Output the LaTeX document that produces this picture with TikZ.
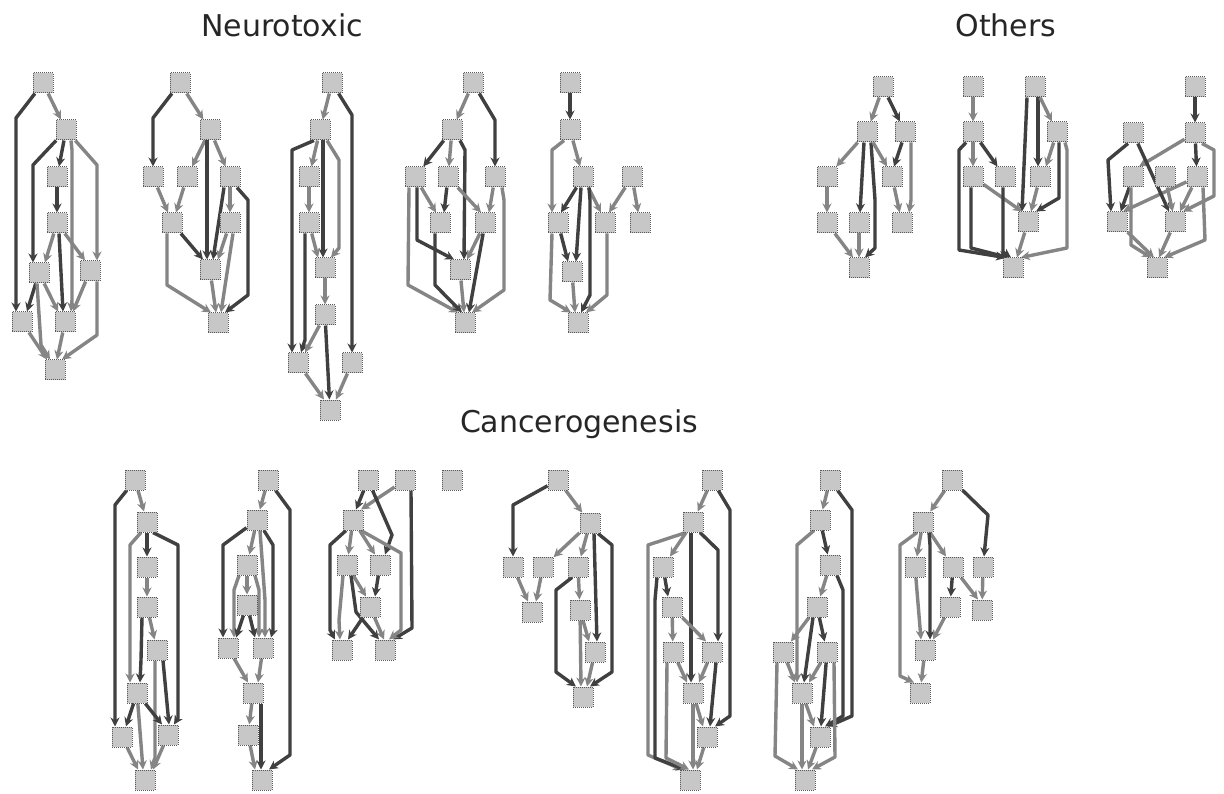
\documentclass[tikz,border=0pt]{standalone}
\usepackage{fontspec}
\setmainfont{DejaVu Sans}
\usetikzlibrary{arrows.meta,backgrounds}
\newcommand\mkbox[3]{\node[nb] (#1) at (#2,#3) {};}
\begin{document}
\begin{tikzpicture}[x=1pt,y=-1pt,
  nb/.style={draw=black!65, densely dotted, line width=1pt, fill=black!22, minimum width=20pt, minimum height=20pt, inner sep=0pt},
  ed/.style={draw=black!75, line width=3.4pt, line join=round, -{Stealth[length=9pt,width=9pt]}},
  eg/.style={draw=black!48, line width=3.4pt, line join=round, -{Stealth[length=9pt,width=9pt]}},
  ttl/.style={font=\fontsize{30}{34}\selectfont, text=black!85, anchor=base, inner sep=0pt}]
\useasboundingbox (0,0) rectangle (1224,794);

\node[ttl] (tN) at (282,37) {Neurotoxic};
\node[ttl] (tO) at (1006,37) {Others};
\node[ttl] (tC) at (579,432) {Cancerogenesis};

% ---------- N1
\mkbox{n1a}{43}{83}\mkbox{n1b}{66}{130}\mkbox{n1c}{57}{177}\mkbox{n1d}{57}{223}
\mkbox{n1e}{39}{273}\mkbox{n1f}{90}{271}\mkbox{n1g}{22}{322}\mkbox{n1h}{65}{322}\mkbox{n1i}{55}{370}
% ---------- N2
\mkbox{n2a}{180}{83}\mkbox{n2b}{210}{130}\mkbox{n2c}{153}{177}\mkbox{n2d}{187}{177}
\mkbox{n2e}{230}{177}\mkbox{n2f}{230}{223}\mkbox{n2g}{172}{223}\mkbox{n2h}{210}{270}\mkbox{n2i}{218}{323}
% ---------- N3
\mkbox{n3a}{332}{83}\mkbox{n3b}{320}{130}\mkbox{n3c}{309}{177}\mkbox{n3d}{309}{223}
\mkbox{n3e}{325}{268}\mkbox{n3f}{325}{315}\mkbox{n3g}{298}{363}\mkbox{n3h}{352}{363}\mkbox{n3i}{330}{410}
% ---------- N4
\mkbox{n4a}{473}{83}\mkbox{n4b}{452}{130}\mkbox{n4c}{415}{177}\mkbox{n4d}{448}{177}
\mkbox{n4e}{495}{177}\mkbox{n4f}{440}{223}\mkbox{n4g}{485}{223}\mkbox{n4h}{460}{270}\mkbox{n4i}{465}{323}
% ---------- N5
\mkbox{n5a}{570}{83}\mkbox{n5b}{570}{130}\mkbox{n5c}{583}{177}\mkbox{n5d}{632}{177}
\mkbox{n5e}{558}{223}\mkbox{n5f}{605}{223}\mkbox{n5g}{640}{223}\mkbox{n5h}{572}{272}\mkbox{n5i}{578}{323}
% ---------- O1
\mkbox{o1a}{883}{87}\mkbox{o1b}{867}{132}\mkbox{o1c}{905}{132}\mkbox{o1d}{827}{177}
\mkbox{o1e}{892}{177}\mkbox{o1f}{827}{223}\mkbox{o1g}{859}{223}\mkbox{o1h}{902}{223}\mkbox{o1i}{859}{268}
% ---------- O2
\mkbox{o2a}{973}{87}\mkbox{o2b}{1035}{87}\mkbox{o2c}{973}{132}\mkbox{o2d}{1057}{132}
\mkbox{o2e}{973}{177}\mkbox{o2f}{1005}{177}\mkbox{o2g}{1040}{177}\mkbox{o2h}{1028}{222}\mkbox{o2i}{1013}{268}
% ---------- O3
\mkbox{o3a}{1195}{87}\mkbox{o3b}{1133}{133}\mkbox{o3c}{1195}{133}\mkbox{o3d}{1133}{177}
\mkbox{o3e}{1165}{177}\mkbox{o3f}{1197}{177}\mkbox{o3g}{1117}{222}\mkbox{o3h}{1175}{222}\mkbox{o3i}{1157}{268}
% ---------- C1
\mkbox{c1a}{135}{480}\mkbox{c1b}{147}{522}\mkbox{c1c}{147}{567}\mkbox{c1d}{147}{607}
\mkbox{c1e}{157}{650}\mkbox{c1f}{137}{693}\mkbox{c1g}{122}{737}\mkbox{c1h}{168}{735}\mkbox{c1i}{145}{780}
% ---------- C2
\mkbox{c2a}{268}{480}\mkbox{c2b}{257}{520}\mkbox{c2c}{247}{565}\mkbox{c2d}{247}{605}
\mkbox{c2e}{228}{648}\mkbox{c2f}{263}{648}\mkbox{c2g}{253}{693}\mkbox{c2h}{248}{735}\mkbox{c2i}{262}{780}
% ---------- C3
\mkbox{c3a}{368}{480}\mkbox{c3b}{405}{480}\mkbox{c3c}{452}{480}\mkbox{c3d}{353}{520}
\mkbox{c3e}{347}{565}\mkbox{c3f}{380}{565}\mkbox{c3g}{370}{607}\mkbox{c3h}{342}{650}\mkbox{c3i}{385}{650}
% ---------- C4
\mkbox{c4a}{558}{480}\mkbox{c4b}{590}{523}\mkbox{c4c}{513}{567}\mkbox{c4d}{543}{567}
\mkbox{c4e}{578}{567}\mkbox{c4f}{532}{612}\mkbox{c4g}{580}{610}\mkbox{c4h}{595}{652}\mkbox{c4i}{583}{697}
% ---------- C5
\mkbox{c5a}{712}{480}\mkbox{c5b}{693}{522}\mkbox{c5c}{663}{567}\mkbox{c5d}{672}{607}
\mkbox{c5e}{673}{652}\mkbox{c5f}{712}{652}\mkbox{c5g}{693}{693}\mkbox{c5h}{707}{737}\mkbox{c5i}{690}{780}
% ---------- C6
\mkbox{c6a}{830}{480}\mkbox{c6b}{820}{520}\mkbox{c6c}{830}{565}\mkbox{c6d}{817}{607}
\mkbox{c6e}{783}{652}\mkbox{c6f}{827}{652}\mkbox{c6g}{802}{693}\mkbox{c6h}{820}{737}\mkbox{c6i}{805}{780}
% ---------- C7
\mkbox{c7a}{952}{480}\mkbox{c7b}{923}{522}\mkbox{c7c}{915}{567}\mkbox{c7d}{953}{567}
\mkbox{c7e}{983}{567}\mkbox{c7f}{950}{607}\mkbox{c7g}{982}{610}\mkbox{c7h}{925}{650}\mkbox{c7i}{920}{693}

\begin{scope}[on background layer]
\fill[white] (0,0) rectangle (1224,794);
% N1
\draw[ed] (n1a) -- (16,118) -- ([xshift=-6pt]n1g.north);
\draw[eg] (n1a) -- (n1b);
\draw[ed] (n1b) -- (n1c);
\draw[ed] (n1b) -- (33,165) -- ([xshift=-6pt]n1e.north);
\draw[eg] (n1b) -- (97,165) -- ([xshift=7pt]n1f.north);
\draw[eg] ([xshift=5pt]n1b.south) -- (72,150) -- (72,300) -- ([xshift=6pt]n1h.north);
\draw[ed] (n1c) -- (n1d);
\draw[eg] (n1d) -- ([xshift=6pt]n1e.north);
\draw[eg] (n1d) -- ([xshift=-5pt]n1f.north);
\draw[ed] ([xshift=2pt]n1d.south) -- ([xshift=-2pt]n1h.north);
\draw[ed] (n1e) -- ([xshift=5pt]n1g.north);
\draw[eg] (n1e) -- ([xshift=-7pt]n1h.north);
\draw[eg] ([xshift=-2pt]n1e.south) -- (41,345) -- ([xshift=-5pt]n1i.north);
\draw[eg] (n1f) -- ([xshift=8pt]n1h.north);
\draw[eg] ([xshift=7pt]n1f.south) -- (97,335) -- ([xshift=7pt]n1i.north);
\draw[eg] (n1g) -- ([xshift=-8pt]n1i.north);
\draw[eg] (n1h) -- ([xshift=2pt]n1i.north);
% N2
\draw[ed] (n2a) -- (153,118) -- (n2c);
\draw[eg] (n2a) -- (n2b);
\draw[eg] (n2b) -- (n2d);
\draw[eg] (n2b) -- (n2e);
\draw[ed] ([xshift=-3pt]n2b.south) -- ([xshift=-3pt]n2h.north);
\draw[eg] (n2c) -- ([xshift=-4pt]n2g.north);
\draw[eg] (n2d) -- ([xshift=4pt]n2g.north);
\draw[eg] (n2e) -- (n2f);
\draw[ed] ([xshift=-6pt]n2e.south) -- ([xshift=3pt]n2h.north);
\draw[ed] ([xshift=7pt]n2e.south) -- (248,200) -- (248,295) -- ([xshift=7pt]n2i.north);
\draw[eg] (n2f) -- ([xshift=8pt]n2h.north);
\draw[eg] ([xshift=3pt]n2f.south) -- ([xshift=3pt]n2i.north);
\draw[ed] (n2g) -- ([xshift=-7pt]n2h.north);
\draw[eg] ([xshift=-5pt]n2g.south) -- (167,285) -- ([xshift=-7pt]n2i.north);
\draw[eg] (n2h) -- ([xshift=-2pt]n2i.north);
% N3
\draw[eg] (n3a) -- (n3b);
\draw[ed] (n3a) -- (352,115) -- (n3h);
\draw[eg] (n3b) -- (n3c);
\draw[ed] ([xshift=-6pt]n3b.south) -- (292,150) -- ([xshift=-6pt]n3g.north);
\draw[ed] ([xshift=3pt]n3b.south) -- ([xshift=-2pt]n3e.north);
\draw[eg] ([xshift=7pt]n3b.south) -- (339,160) -- (339,248) -- ([xshift=6pt]n3e.north);
\draw[eg] (n3c) -- (n3d);
\draw[eg] (n3d) -- ([xshift=-7pt]n3e.north);
\draw[ed] ([xshift=-4pt]n3d.south) -- (305,340) -- ([xshift=3pt]n3g.north);
\draw[eg] (n3e) -- (n3f);
\draw[eg] (n3f) -- ([xshift=7pt]n3g.north);
\draw[ed] (n3f) -- (n3i);
\draw[eg] (n3g) -- ([xshift=-6pt]n3i.north);
\draw[eg] (n3h) -- ([xshift=6pt]n3i.north);
% N4
\draw[eg] (n4a) -- (n4b);
\draw[ed] (n4a) -- (495,120) -- (n4e);
\draw[ed] (n4b) -- (n4c);
\draw[eg] (n4b) -- (n4d);
\draw[ed] ([xshift=8pt]n4b.south) -- (465,150) -- ([xshift=4pt]n4h.north);
\draw[eg] (n4c) -- ([xshift=-4pt]n4f.north);
\draw[ed] ([xshift=2pt]n4c.south) -- (417,240) -- ([xshift=-6pt]n4h.north);
\draw[eg] ([xshift=-6pt]n4c.south) -- (408,285) -- ([xshift=-7pt]n4i.north);
\draw[ed] (n4d) -- ([xshift=4pt]n4f.north);
\draw[eg] (n4d) -- ([xshift=-4pt]n4g.north);
\draw[eg] (n4e) -- ([xshift=4pt]n4g.north);
\draw[eg] ([xshift=7pt]n4e.south) -- (504,200) -- (504,290) -- ([xshift=7pt]n4i.north);
\draw[ed] ([xshift=-5pt]n4f.south) -- (435,285) -- ([xshift=-3pt]n4i.north);
\draw[eg] (n4g) -- ([xshift=7pt]n4h.north);
\draw[ed] (n4g) -- ([xshift=4pt]n4i.north);
\draw[eg] (n4h) -- (n4i);
% N5
\draw[ed] (n5a) -- (n5b);
\draw[eg] ([xshift=-6pt]n5b.south) -- (552,150) -- (552,200) -- ([xshift=-6pt]n5e.north);
\draw[eg] (n5b) -- (n5c);
\draw[ed] (n5c) -- ([xshift=3pt]n5e.north);
\draw[ed] ([xshift=-2pt]n5c.south) -- ([xshift=4pt]n5h.north);
\draw[eg] (n5c) -- ([xshift=-4pt]n5f.north);
\draw[eg] (n5d) -- ([xshift=4pt]n5f.north);
\draw[eg] (n5d) -- (n5g);
\draw[ed] (n5e) -- ([xshift=-4pt]n5h.north);
\draw[eg] ([xshift=-6pt]n5e.south) -- (550,300) -- ([xshift=-7pt]n5i.north);
\draw[ed] ([xshift=6pt]n5c.south) -- (590,200) -- (590,295) -- ([xshift=3pt]n5i.north);
\draw[eg] ([xshift=2pt]n5f.south) -- (607,295) -- ([xshift=8pt]n5i.north);
\draw[eg] (n5h) -- ([xshift=-3pt]n5i.north);
% O1
\draw[eg] (o1a) -- (o1b);
\draw[ed] (o1a) -- (o1c);
\draw[eg] (o1b) -- (o1d);
\draw[ed] ([xshift=-3pt]o1b.south) -- ([xshift=1pt]o1g.north);
\draw[ed] ([xshift=4pt]o1b.south) -- (875,200) -- (875,248) -- ([xshift=6pt]o1i.north);
\draw[eg] (o1b) -- ([xshift=-5pt]o1e.north);
\draw[ed] ([xshift=-3pt]o1c.south) -- ([xshift=2pt]o1e.north);
\draw[eg] ([xshift=6pt]o1c.south) -- (911,200) -- ([xshift=7pt]o1h.north);
\draw[eg] (o1d) -- (o1f);
\draw[eg] (o1e) -- (o1h);
\draw[eg] (o1f) -- ([xshift=-6pt]o1i.north);
\draw[eg] (o1g) -- (o1i);
% O2
\draw[eg] (o2a) -- (o2c);
\draw[eg] (o2c) -- (o2e);
\draw[ed] (o2c) -- (o2f);
\draw[ed] ([xshift=-7pt]o2c.south) -- (959,150) -- (959,250) -- ([xshift=-8pt]o2i.north);
\draw[ed] ([xshift=-2pt]o2e.south) -- (971,248) -- ([xshift=-5pt]o2i.north);
\draw[eg] (o2e) -- ([xshift=-6pt]o2h.north);
\draw[ed] ([xshift=-2pt]o2f.south) -- (1003,252) -- ([xshift=-2pt]o2i.north);
\draw[ed] ([xshift=3pt]o2b.south) -- ([xshift=-2pt]o2g.north);
\draw[ed] ([xshift=-8pt]o2b.south) -- ([xshift=-6pt]o2h.north);
\draw[eg] (o2b) -- (o2d);
\draw[eg] (o2d) -- ([xshift=6pt]o2g.north);
\draw[ed] ([xshift=2pt]o2d.south) -- (1059,198) -- ([xshift=8pt]o2h.north);
\draw[eg] ([xshift=8pt]o2d.south) -- (1067,150) -- (1067,248) -- ([xshift=8pt]o2i.north);
\draw[eg] (o2g) -- ([xshift=3pt]o2h.north);
\draw[eg] (o2h) -- ([xshift=4pt]o2i.north);
% O3
\draw[ed] (o3a) -- (o3c);
\draw[eg] (o3c) -- ([xshift=6pt]o3d.north);
\draw[ed] (o3c) -- (o3f);
\draw[eg] ([xshift=7pt]o3c.south) -- (1214,150) -- (1214,196) -- ([xshift=8pt]o3h.north);
\draw[eg] (o3f) -- ([xshift=6pt]o3g.north);
\draw[ed] ([xshift=-5pt]o3b.south) -- (1108,160) -- ([xshift=-6pt]o3g.north);
\draw[ed] (o3b) -- ([xshift=-6pt]o3h.north);
\draw[ed] (o3d) -- (o3g);
\draw[eg] ([xshift=-2pt]o3d.south) -- (1131,245) -- ([xshift=-6pt]o3i.north);
\draw[eg] (o3e) -- (o3h);
\draw[eg] (o3f) -- ([xshift=5pt]o3h.north);
\draw[eg] ([xshift=6pt]o3f.south) -- (1205,240) -- ([xshift=7pt]o3i.north);
\draw[eg] (o3g) -- ([xshift=-3pt]o3i.north);
\draw[eg] (o3h) -- ([xshift=2pt]o3i.north);
% C1
\draw[eg] (c1a) -- (c1b);
\draw[ed] (c1a) -- (115,505) -- (115,718) -- ([xshift=-7pt]c1g.north);
\draw[ed] (c1b) -- (c1c);
\draw[eg] ([xshift=-6pt]c1b.south) -- (130,545) -- (130,675) -- ([xshift=-7pt]c1f.north);
\draw[ed] ([xshift=6pt]c1b.south) -- (178,545) -- (178,718) -- ([xshift=6pt]c1h.north);
\draw[eg] (c1c) -- (c1d);
\draw[eg] (c1d) -- (c1e);
\draw[ed] ([xshift=-5pt]c1d.south) -- (141,660) -- ([xshift=3pt]c1f.north);
\draw[ed] ([xshift=6pt]c1e.south) -- ([xshift=1pt]c1h.north);
\draw[eg] ([xshift=-2pt]c1e.south) -- (155,758) -- ([xshift=6pt]c1i.north);
\draw[ed] (c1f) -- ([xshift=4pt]c1g.north);
\draw[ed] (c1f) -- ([xshift=-6pt]c1h.north);
\draw[eg] (c1f) -- ([xshift=-2pt]c1i.north);
\draw[eg] (c1g) -- ([xshift=-7pt]c1i.north);
\draw[eg] (c1h) -- ([xshift=8pt]c1i.north);
% C2
\draw[eg] (c2a) -- (c2b);
\draw[ed] (c2a) -- (290,510) -- (290,755) -- ([xshift=7pt]c2i.north);
\draw[eg] (c2b) -- (c2c);
\draw[ed] (c2b) -- (223,545) -- (223,630) -- ([xshift=-5pt]c2e.north);
\draw[ed] ([xshift=7pt]c2b.south) -- (273,545) -- (273,630) -- ([xshift=8pt]c2f.north);
\draw[eg] ([xshift=3pt]c2b.south) -- (265,600) -- ([xshift=2pt]c2f.north);
\draw[eg] (c2c) -- (c2d);
\draw[eg] ([xshift=-8pt]c2c.south) -- (234,590) -- (234,628) -- ([xshift=6pt]c2e.north);
\draw[eg] ([xshift=8pt]c2c.south) -- (259,590) -- ([xshift=-4pt]c2f.north);
\draw[ed] (c2d) -- ([xshift=8pt]c2e.north);
\draw[ed] (c2d) -- ([xshift=-8pt]c2f.north);
\draw[eg] (c2e) -- ([xshift=-5pt]c2g.north);
\draw[eg] (c2f) -- ([xshift=5pt]c2g.north);
\draw[eg] (c2g) -- (c2h);
\draw[ed] ([xshift=8pt]c2g.south) -- ([xshift=-1pt]c2i.north);
\draw[eg] (c2h) -- ([xshift=-7pt]c2i.north);
% C3
\draw[ed] (c3a) -- ([xshift=3pt]c3d.north);
\draw[eg] (c3b) -- ([xshift=8pt]c3d.north);
\draw[ed] (c3a) -- (392,535) -- ([xshift=5pt]c3f.north);
\draw[ed] ([xshift=6pt]c3b.south) -- (412,628) -- ([xshift=8pt]c3i.north);
\draw[eg] (c3d) -- (c3e);
\draw[eg] (c3d) -- ([xshift=-5pt]c3f.north);
\draw[ed] ([xshift=-7pt]c3d.south) -- (330,545) -- (330,630) -- ([xshift=-7pt]c3h.north);
\draw[eg] ([xshift=8pt]c3d.south) -- (401,553) -- (401,630) -- ([xshift=4pt]c3i.north);
\draw[eg] (c3e) -- ([xshift=-4pt]c3g.north);
\draw[eg] ([xshift=-4pt]c3e.south) -- (339,620) -- ([xshift=-2pt]c3h.north);
\draw[ed] ([xshift=4pt]c3e.south) -- (356,612) -- ([xshift=-6pt]c3i.north);
\draw[ed] (c3f) -- ([xshift=5pt]c3g.north);
\draw[ed] (c3g) -- ([xshift=6pt]c3h.north);
\draw[eg] (c3g) -- ([xshift=-1pt]c3i.north);
% C4
\draw[ed] (c4a) -- (513,505) -- (c4c);
\draw[eg] (c4a) -- (c4b);
\draw[eg] (c4b) -- (c4d);
\draw[eg] (c4b) -- (c4e);
\draw[ed] ([xshift=4pt]c4b.south) -- ([xshift=2pt]c4h.north);
\draw[ed] ([xshift=8pt]c4b.south) -- (612,545) -- (612,672) -- ([xshift=7pt]c4i.north);
\draw[eg] (c4c) -- ([xshift=-4pt]c4f.north);
\draw[eg] (c4d) -- ([xshift=4pt]c4f.north);
\draw[eg] (c4e) -- (c4g);
\draw[ed] ([xshift=-6pt]c4e.south) -- (556,590) -- (556,672) -- ([xshift=-7pt]c4i.north);
\draw[eg] (c4g) -- ([xshift=-6pt]c4h.north);
\draw[eg] (c4g) -- ([xshift=-2pt]c4i.north);
\draw[eg] (c4h) -- ([xshift=4pt]c4i.north);
% C5
\draw[eg] (c5a) -- (c5b);
\draw[ed] (c5a) -- (730,510) -- (730,716) -- ([xshift=8pt]c5h.north);
\draw[eg] (c5b) -- (c5c);
\draw[eg] ([xshift=-7pt]c5b.south) -- (648,545) -- (648,755) -- ([xshift=-8pt]c5i.north);
\draw[ed] (c5c) -- ([xshift=-4pt]c5d.north);
\draw[ed] ([xshift=-6pt]c5c.south) -- (655,600) -- (655,758) -- ([xshift=-5pt]c5i.north);
\draw[ed] ([xshift=-2pt]c5b.south) -- ([xshift=-2pt]c5g.north);
\draw[ed] ([xshift=7pt]c5b.south) -- (718,550) -- ([xshift=6pt]c5f.north);
\draw[eg] (c5d) -- (c5e);
\draw[eg] (c5d) -- ([xshift=-6pt]c5f.north);
\draw[eg] (c5e) -- ([xshift=-6pt]c5g.north);
\draw[eg] ([xshift=-6pt]c5e.south) -- (666,758) -- ([xshift=-1pt]c5i.north);
\draw[eg] (c5f) -- ([xshift=6pt]c5g.north);
\draw[ed] ([xshift=4pt]c5f.south) -- ([xshift=3pt]c5h.north);
\draw[eg] (c5g) -- ([xshift=-4pt]c5h.north);
\draw[eg] (c5g) -- ([xshift=3pt]c5i.north);
\draw[eg] (c5h) -- ([xshift=7pt]c5i.north);
% C6
\draw[eg] (c6a) -- (c6b);
\draw[ed] (c6a) -- (852,510) -- (852,716) -- ([xshift=8pt]c6h.north);
\draw[ed] (c6b) -- (c6c);
\draw[eg] ([xshift=-6pt]c6b.south) -- (797,545) -- (797,662) -- ([xshift=-5pt]c6g.north);
\draw[eg] (c6c) -- (c6d);
\draw[ed] ([xshift=7pt]c6c.south) -- (843,590) -- (843,716) -- ([xshift=5pt]c6h.north);
\draw[eg] (c6d) -- (c6e);
\draw[ed] (c6d) -- (c6f);
\draw[ed] ([xshift=-4pt]c6d.south) -- ([xshift=2pt]c6g.north);
\draw[eg] (c6e) -- ([xshift=-7pt]c6g.north);
\draw[eg] ([xshift=-6pt]c6e.south) -- (775,756) -- ([xshift=-7pt]c6i.north);
\draw[eg] (c6f) -- ([xshift=7pt]c6g.north);
\draw[ed] (c6f) -- ([xshift=1pt]c6h.north);
\draw[eg] ([xshift=7pt]c6f.south) -- (835,757) -- ([xshift=7pt]c6i.north);
\draw[eg] (c6g) -- ([xshift=-6pt]c6h.north);
\draw[eg] (c6g) -- ([xshift=-3pt]c6i.north);
\draw[eg] (c6h) -- ([xshift=3pt]c6i.north);
% C7
\draw[eg] (c7a) -- (c7b);
\draw[ed] (c7a) -- (988,515) -- (c7e);
\draw[eg] (c7b) -- (c7c);
\draw[eg] (c7b) -- (c7d);
\draw[ed] ([xshift=6pt]c7b.south) -- (930,545) -- (930,632) -- ([xshift=5pt]c7h.north);
\draw[eg] ([xshift=-6pt]c7b.south) -- (900,545) -- (900,676) -- ([xshift=-6pt]c7i.north);
\draw[eg] (c7c) -- ([xshift=-4pt]c7h.north);
\draw[ed] (c7d) -- (c7f);
\draw[eg] (c7d) -- ([xshift=-4pt]c7g.north);
\draw[eg] (c7e) -- (c7g);
\draw[eg] (c7f) -- ([xshift=8pt]c7h.north);
\draw[eg] (c7h) -- (c7i);
\end{scope}
\end{tikzpicture}
\end{document}
